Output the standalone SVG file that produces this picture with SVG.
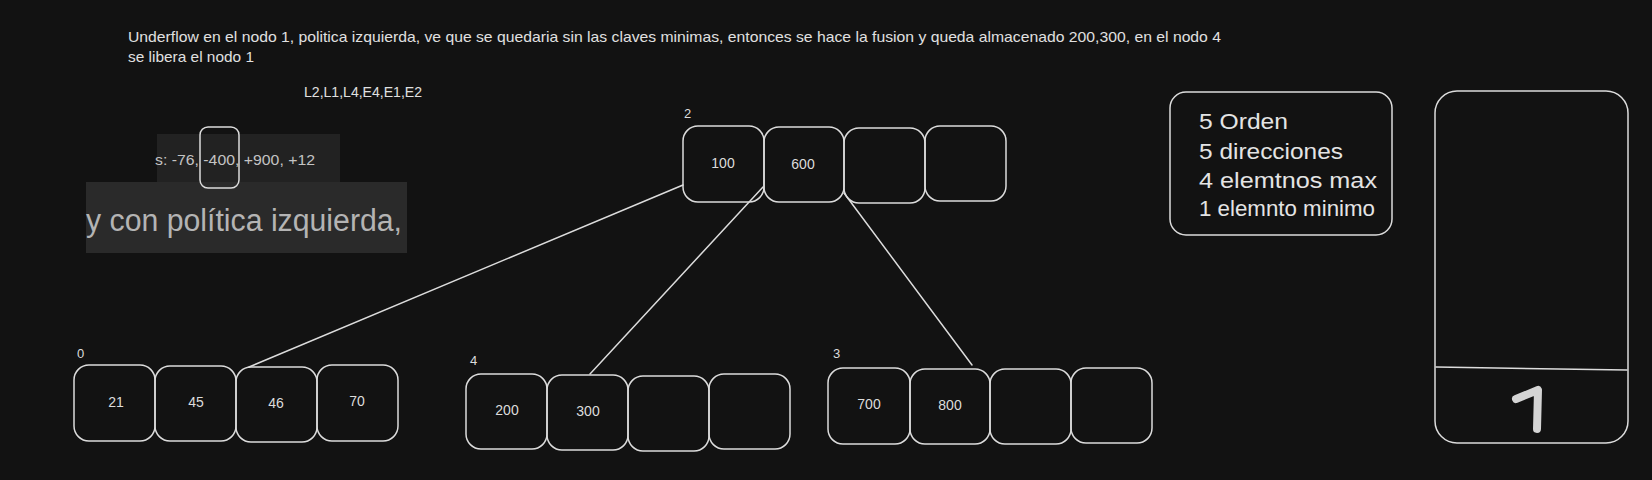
<svg xmlns="http://www.w3.org/2000/svg" width="1652" height="480" viewBox="0 0 1652 480">
<style>
.bg{fill:#121212}
.cell{fill:none;stroke:#dcdcdc;stroke-width:1.5}
.k{font-family:"Liberation Sans",Arial,sans-serif;font-size:14px;fill:#dcdcdc;text-anchor:middle;dominant-baseline:central}
.lbl{font-family:"Liberation Sans",Arial,sans-serif;font-size:13px;fill:#dcdcdc}
.note{font-family:"Liberation Sans",Arial,sans-serif;font-size:15px;fill:#e0e0e0}
.leg{font-family:"Liberation Sans",Arial,sans-serif;font-size:22px;fill:#e4e4e4}
.conn{stroke:#dcdcdc;stroke-width:1.5;fill:none;stroke-linecap:round}
</style>
<rect class="bg" x="0" y="0" width="1652" height="480"/>

<g id="notes">
<text class="note" x="128" y="42" textLength="1093" lengthAdjust="spacingAndGlyphs">Underflow en el nodo 1, politica izquierda, ve que se quedaria sin las claves minimas, entonces se hace la fusion y queda almacenado 200,300, en el nodo 4</text>
<text class="note" x="128" y="62" textLength="126" lengthAdjust="spacingAndGlyphs">se libera el nodo 1</text>
<text class="note" x="304" y="97" textLength="118" lengthAdjust="spacingAndGlyphs">L2,L1,L4,E4,E1,E2</text>
</g>

<g id="screenshot">
<rect x="157" y="134" width="183" height="48" fill="#222222"/>
<rect x="86" y="182" width="321" height="71" fill="#2a2a2a"/>
<text x="155" y="165" font-family="'Liberation Sans',Arial,sans-serif" font-size="15" fill="#c4c4c4" textLength="160" lengthAdjust="spacingAndGlyphs">s: -76, -400, +900, +12</text>
<text x="86" y="231" font-family="'Liberation Sans',Arial,sans-serif" font-size="31" fill="#b4b4b4" textLength="316" lengthAdjust="spacingAndGlyphs">y con política izquierda,</text>
<rect x="200" y="127" width="39" height="61" rx="8" fill="none" stroke="#dcdcdc" stroke-width="1.5"/>
</g>

<g id="connectors">
<line class="conn" x1="683" y1="185" x2="249" y2="367"/>
<line class="conn" x1="763" y1="187" x2="590" y2="374"/>
<line class="conn" x1="844" y1="193" x2="972" y2="365"/>
</g>

<g id="node-2">
<text class="lbl" x="684" y="118">2</text>
<rect class="cell" x="683" y="126" width="81" height="76" rx="15"/>
<rect class="cell" x="764" y="127" width="80" height="75" rx="15"/>
<rect class="cell" x="844" y="128" width="81" height="75" rx="15"/>
<rect class="cell" x="925" y="126" width="81" height="75" rx="15"/>
<text class="k" x="723" y="163">100</text>
<text class="k" x="803" y="164">600</text>
</g>

<g id="node-0">
<text class="lbl" x="77" y="358">0</text>
<rect class="cell" x="74" y="365" width="81" height="76" rx="15"/>
<rect class="cell" x="155" y="366" width="81" height="75" rx="15"/>
<rect class="cell" x="236" y="367" width="81" height="75" rx="15"/>
<rect class="cell" x="317" y="365" width="81" height="76" rx="15"/>
<text class="k" x="116" y="402">21</text>
<text class="k" x="196" y="402">45</text>
<text class="k" x="276" y="403">46</text>
<text class="k" x="357" y="401">70</text>
</g>

<g id="node-4">
<text class="lbl" x="470" y="365">4</text>
<rect class="cell" x="466" y="374" width="81" height="75" rx="15"/>
<rect class="cell" x="547" y="375" width="81" height="75" rx="15"/>
<rect class="cell" x="628" y="376" width="81" height="75" rx="15"/>
<rect class="cell" x="709" y="374" width="81" height="75" rx="15"/>
<text class="k" x="507" y="410">200</text>
<text class="k" x="588" y="411">300</text>
</g>

<g id="node-3">
<text class="lbl" x="833" y="358">3</text>
<rect class="cell" x="828" y="368" width="82" height="76" rx="15"/>
<rect class="cell" x="910" y="369" width="80" height="75" rx="15"/>
<rect class="cell" x="990" y="369" width="81" height="75" rx="15"/>
<rect class="cell" x="1071" y="368" width="81" height="75" rx="15"/>
<text class="k" x="869" y="404">700</text>
<text class="k" x="950" y="405">800</text>
</g>

<g id="legend">
<rect class="cell" x="1170" y="92" width="222" height="143" rx="16"/>
<text class="leg" x="1199" y="129" textLength="89" lengthAdjust="spacingAndGlyphs">5 Orden</text>
<text class="leg" x="1199" y="159" textLength="144" lengthAdjust="spacingAndGlyphs">5 direcciones</text>
<text class="leg" x="1199" y="188" textLength="178" lengthAdjust="spacingAndGlyphs">4 elemtnos max</text>
<text class="leg" x="1199" y="216" textLength="176" lengthAdjust="spacingAndGlyphs">1 elemnto minimo</text>
</g>

<g id="freed-node">
<rect class="cell" x="1435" y="91" width="193" height="352" rx="22"/>
<line class="conn" x1="1436" y1="367" x2="1627" y2="370"/>
<path d="M1516 399 L1538 390 L1537 429" fill="none" stroke="#d4d4d4" stroke-width="8" stroke-linecap="round" stroke-linejoin="round"/>
</g>
</svg>
